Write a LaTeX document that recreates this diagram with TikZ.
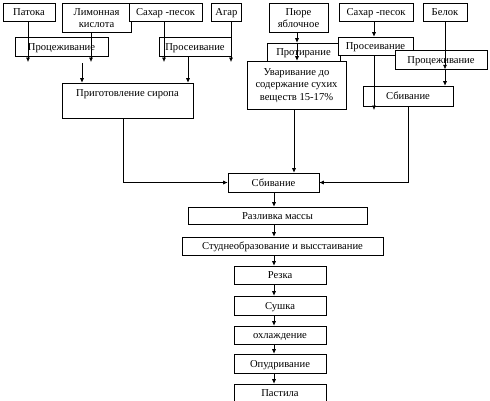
\documentclass[tikz,border=0pt]{standalone}
\usepackage{fontspec}
\setmainfont{Liberation Serif}
\usetikzlibrary{arrows.meta}
\tikzset{
	frame/.style={draw, fill=white, inner sep=1pt, font=\fontsize{10.6}{12.5}\selectfont},
	box/.style={frame, text height=7.5pt, text depth=0pt},
	mbox/.style={frame, align=center, text depth=0pt},
	arr/.style={-{Latex[length=4.5pt,width=4pt]}},
}
\begin{document}
\begin{tikzpicture}[x=1pt,y=-1pt,line width=0.6pt]
		\useasboundingbox (0,0) rectangle (490,400);
		
		% Raw materials
		\node[box, minimum width=52, minimum height=18] (patoka) at (29,12) {Патока};
		\node[mbox, minimum width=69, minimum height=29, text height=20pt] (limon) at (96.5,17.5) {Лимонная\\кислота};
		\node[box, minimum width=73, minimum height=18] (sahar1) at (165.5,12) {Сахар -песок};
		\node[box, minimum width=30, minimum height=18] (agar) at (226.5,12) {Агар};
		\node[mbox, minimum width=59, minimum height=29, text height=20pt] (pure) at (298.5,17.5) {Пюре\\яблочное};
		\node[box, minimum width=74, minimum height=18] (sahar2) at (376,12) {Сахар -песок};
		\node[box, minimum width=44, minimum height=18] (belok) at (445,12) {Белок};
		
		% Preparation
		\node[box, minimum width=93, minimum height=19] (procezh1) at (61.5,46.5) {Процеживание};
		\node[box, minimum width=72, minimum height=19] (prosev1) at (195,46.5) {Просеивание};
		\node[box, minimum width=73, minimum height=18] (protir) at (303.5,52) {Протирание};
		\node[box, minimum width=75, minimum height=18] (prosev2) at (375.5,46) {Просеивание};
		\node[box, minimum width=92, minimum height=19] (procezh2) at (441,59.5) {Процеживание};
		
		% Intermediate steps
		\node[box, minimum width=131, minimum height=35, text height=0pt, text depth=9pt] (sirop) at (127.5,100.5) {Приготовление сиропа};
		\node[mbox, minimum width=99, minimum height=48, text height=30.5pt] (uvar) at (296.5,85) {Уваривание до\\содержание сухих\\веществ 15-17\%};
		\node[box, minimum width=90, minimum height=20] (sbiv2) at (408,96) {Сбивание};
		
		% Main chain
		\node[box, minimum width=91, minimum height=19] (sbivc) at (273.5,182.5) {Сбивание};
		\node[box, minimum width=179, minimum height=17] (razliv) at (277.5,215.5) {Разливка массы};
		\node[box, minimum width=201, minimum height=18] (studn) at (282.5,246) {Студнеобразование и высстаивание};
		\node[box, minimum width=92, minimum height=18] (rezka) at (280,275) {Резка};
		\node[box, minimum width=92, minimum height=19] (sushka) at (280,305.5) {Сушка};
		\node[box, minimum width=92, minimum height=18] (ohlazh) at (280,335) {охлаждение};
		\node[box, minimum width=92, minimum height=19] (opudr) at (280,363.5) {Опудривание};
		\node[box, minimum width=92, minimum height=18] (pastila) at (280,393) {Пастила};
		
		% Arrow columns
		\coordinate (xa) at (28,62);
		\coordinate (xb) at (91,62);
		\coordinate (xc) at (164,62);
		\coordinate (xd) at (231,62);
		\coordinate (xe) at (82,63);
		\coordinate (xf) at (188,0);
		\coordinate (xg) at (297,0);
		\coordinate (xh) at (294,0);
		\coordinate (xi) at (374,110);
		\coordinate (xj) at (123,0);
		\coordinate (xm) at (274,0);
		
		% Connectors, left part
		\draw[arr] (patoka.south -| xa) -- (xa);
		\draw[arr] (limon.south -| xb) -- (xb);
		\draw[arr] (sahar1.south -| xc) -- (xc);
		\draw[arr] (agar.south -| xd) -- (xd);
		\draw[arr] (xe) -- (xe |- sirop.north);
		\draw[arr] (prosev1.south -| xf) -- (sirop.north -| xf);
		\draw[arr] (sirop.south -| xj) |- (sbivc.west);
		
		% Connectors, right part
		\draw[arr] (pure.south -| xg) -- (protir.north -| xg);
		\draw[arr] (protir.north -| xg) -- (uvar.north -| xg);
		\draw[arr] (uvar.south -| xh) -- (sbivc.north -| xh);
		\draw[arr] (sahar2.south -| xi) -- (prosev2.north -| xi);
		\draw[arr] (prosev2.south -| xi) -- (xi);
		\draw[arr] (belok.south) -- (procezh2.south -| belok);
		\draw[arr] (procezh2.south -| belok) -- (sbiv2.north -| belok);
		\draw[arr] (sbiv2.south) |- (sbivc.east);
		
		% Main chain
		\foreach \a/\b in {sbivc/razliv, razliv/studn, studn/rezka, rezka/sushka, sushka/ohlazh, ohlazh/opudr, opudr/pastila} {
			\draw[arr] (\a.south -| xm) -- (\b.north -| xm);
		}
	\end{tikzpicture}
\end{document}
